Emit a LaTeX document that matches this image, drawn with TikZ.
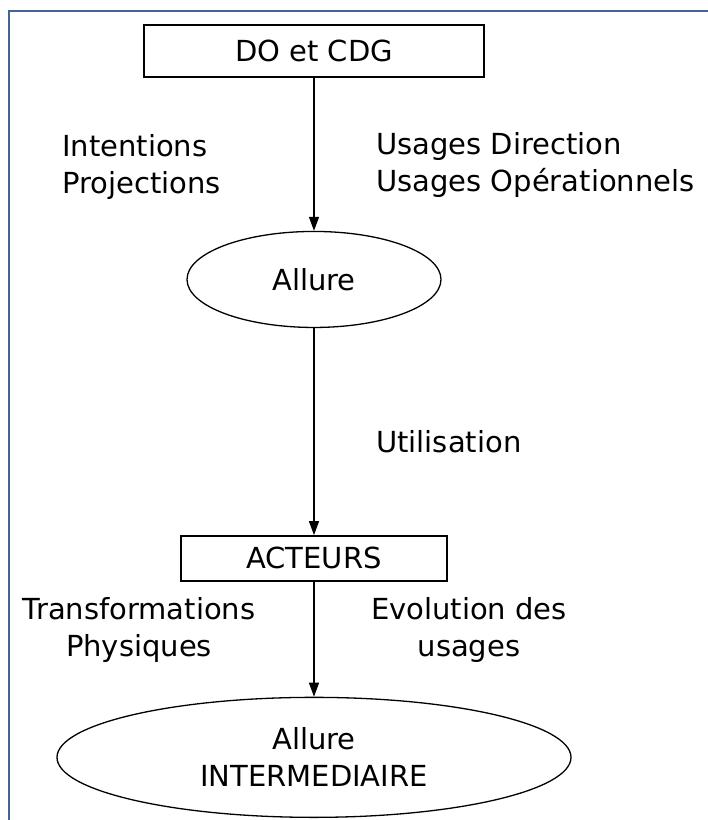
\documentclass[tikz,border=0pt]{standalone}
\usepackage{fontspec}
\setmainfont{DejaVu Sans}
\usepackage{xcolor}
\usetikzlibrary{positioning, arrows.meta, shapes.geometric}

\definecolor{framecol}{RGB}{66,100,150}

\begin{document}
\begin{tikzpicture}[
  x=1pt, y=-1pt,
  node distance=20pt,
  every node/.style={font=\fontsize{29}{37}\selectfont, inner sep=0pt},
  box/.style={rectangle, draw, line width=1.6pt, align=center},
  oval/.style={ellipse, draw, line width=1.3pt, align=center},
  lbl/.style={align=left, anchor=west},
  clbl/.style={align=center},
  arrow/.style={-{Triangle[length=14pt, width=10pt]}, line width=1.3pt}
]
\useasboundingbox (0,0) rectangle (708,820);
% cadre
\draw[framecol, line width=2pt] (9,820) -- (9,11) -- (708,11);

\node[box, minimum width=340pt, minimum height=52pt] (docdg) at (314,51) {DO et CDG};
\node[oval, minimum width=254pt, minimum height=96pt, below=153pt of docdg] (allure) {Allure};
\node[box, minimum width=266pt, minimum height=45pt, below=207pt of allure] (acteurs) {ACTEURS};
\node[oval, minimum width=514pt, minimum height=120pt, below=115pt of acteurs] (inter) {Allure\\INTERMEDIAIRE};

\node[lbl] (intent) at (62,167) {Intentions\\Projections};
\node[lbl] (usages) at (376,165) {Usages Direction\\Usages Opérationnels};
\node[lbl] (util) at (376,442) {Utilisation};
\node[clbl] (transf) at (139,630) {Transformations\\Physiques};
\node[clbl] (evol) at (469,630) {Evolution des\\usages};

\draw[arrow] (docdg) -- (allure);
\draw[arrow] (allure) -- (acteurs);
\draw[arrow] (acteurs) -- (inter);
\end{tikzpicture}
\end{document}
